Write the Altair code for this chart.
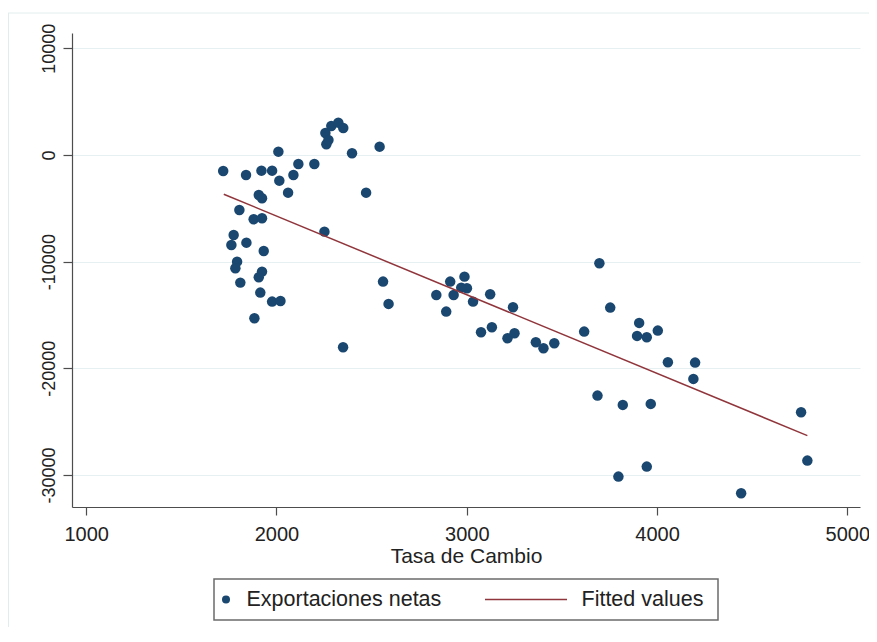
import altair as alt
import pandas as pd

# ---- data ----
tasa_cambio = [1720, 1840, 1921, 1977, 2015, 2010, 2061, 2089, 2115, 2199,
               2257, 2288, 2325, 2351, 2262, 2273, 2397, 2542, 2471, 1907,
               1924, 1805, 1880, 1924, 1775, 1763, 1842, 1933, 1793, 1784,
               1924, 1907, 1810, 1915, 1977, 2021, 1884, 2252, 2560, 2589,
               2350, 2913, 2988, 2931, 3001, 2971, 2840, 2892, 3033, 3123,
               3243, 3075, 3132, 3214, 3251, 3363, 3403, 3460, 3617, 3697,
               3754, 3906, 3895, 3946, 4004, 4057, 4200, 4191, 3687, 3820,
               3967, 4757, 4790, 3797, 3946, 4442]
exportaciones_netas = [-1500, -1874, -1471, -1471, -2409, 309, -3533, -1874, -843, -843,
                       2062, 2718, 3027, 2530, 1003, 1406, 159, 778, -3533, -3749,
                       -4058, -5155, -6026, -5932, -7498, -8435, -8220, -8998, -10000, -10619,
                       -10937, -11462, -11968, -12905, -13748, -13683, -15304, -7188, -11874, -13964,
                       -18022, -11874, -11406, -13121, -12493, -12437, -13121, -14686, -13749, -13055,
                       -14273, -16616, -16148, -17179, -16710, -17554, -18116, -17648, -16560, -10150,
                       -14311, -15745, -16963, -17085, -16467, -19428, -19466, -20993, -22558, -23430,
                       -23337, -24115, -28651, -30151, -29214, -31706]
fitted_x = [1723, 4790]
fitted_y = [-3683, -26307]
x_ticks = [1000, 2000, 3000, 4000, 5000]
y_ticks = [-30000, -20000, -10000, 0, 10000]
legend_labels = ["Exportaciones netas", "Fitted values"]
x_title = "Tasa de Cambio"

FONT = "Liberation Sans, Arial, Helvetica, sans-serif"
NAVY = "#1a476f"
MAROON = "#90353b"
TEXT = "#222222"

pts = pd.DataFrame({"x": tasa_cambio, "y": exportaciones_netas})
fit = pd.DataFrame({"x": fitted_x, "y": fitted_y})
one = pd.DataFrame({"a": [0]})

xs = alt.Scale(domain=[925.4, 5066.6], nice=False, zero=False)
ys = alt.Scale(domain=[-33000, 11430], nice=False, zero=False)

x_axis = alt.Axis(values=x_ticks, grid=False, labelFontSize=20,
                  labelBaseline="alphabetic", labelPadding=25, tickSize=8,
                  labelExpr="'' + datum.value",
                  titleFontSize=21, titleFontWeight="normal",
                  titleY=55, titleBaseline="alphabetic")
y_axis = alt.Axis(values=y_ticks, grid=True, labelAngle=270, labelAlign="center",
                  labelBaseline="alphabetic", labelPadding=9, tickSize=9,
                  labelFontSize=18, labelExpr="'' + datum.value")

points = alt.Chart(pts).mark_circle(size=110, color=NAVY, opacity=1).encode(
    x=alt.X("x:Q", scale=xs, axis=x_axis, title=x_title),
    y=alt.Y("y:Q", scale=ys, axis=y_axis, title=""),
)

line = alt.Chart(fit).mark_line(color=MAROON, strokeWidth=1.5).encode(
    x=alt.X("x:Q", scale=xs),
    y=alt.Y("y:Q", scale=ys),
)

# faint outer graph-region border
border_top = alt.Chart(one).mark_rule(color="#e2ecec", strokeWidth=1).encode(
    x=alt.value(-64), x2=alt.value(797), y=alt.value(-20))
border_left = alt.Chart(one).mark_rule(color="#e2ecec", strokeWidth=1).encode(
    x=alt.value(-63.5), y=alt.value(-20), y2=alt.value(600))

# manual legend
leg_box = alt.Chart(one).mark_rect(fill="white", stroke="#6b6b6b", strokeWidth=1.5).encode(
    x=alt.value(142), x2=alt.value(646), y=alt.value(546), y2=alt.value(587))
leg_dot = alt.Chart(one).mark_circle(size=64, color=NAVY, opacity=1).encode(
    x=alt.value(154), y=alt.value(566.5))
leg_line = alt.Chart(one).mark_rule(color=MAROON, strokeWidth=1.5).encode(
    x=alt.value(413), x2=alt.value(495), y=alt.value(566.5))
leg_t1 = alt.Chart(one).mark_text(align="left", baseline="middle", fontSize=21.5,
                                  font=FONT, color=TEXT).encode(
    x=alt.value(174.5), y=alt.value(567), text=alt.value(legend_labels[0]))
leg_t2 = alt.Chart(one).mark_text(align="left", baseline="middle", fontSize=21.5,
                                  font=FONT, color=TEXT).encode(
    x=alt.value(509.5), y=alt.value(567), text=alt.value(legend_labels[1]))

chart = alt.layer(
    border_top, border_left, points, line,
    leg_box, leg_dot, leg_line, leg_t1, leg_t2
).properties(
    width=788, height=474,
    autosize=alt.AutoSizeParams(type="none"),
    padding={"left": 64, "top": 25, "right": 9, "bottom": 120},
    background="white",
).configure_view(
    stroke="transparent"
).configure_axis(
    labelFont=FONT, titleFont=FONT, labelColor=TEXT, titleColor=TEXT,
    domainColor="#4d4d4d", tickColor="#4d4d4d", domainWidth=1.2, tickWidth=1.2,
    gridColor="#e6eff1", gridWidth=1,
)

chart.save("out.html", embed_options={"renderer": "svg", "actions": False})
